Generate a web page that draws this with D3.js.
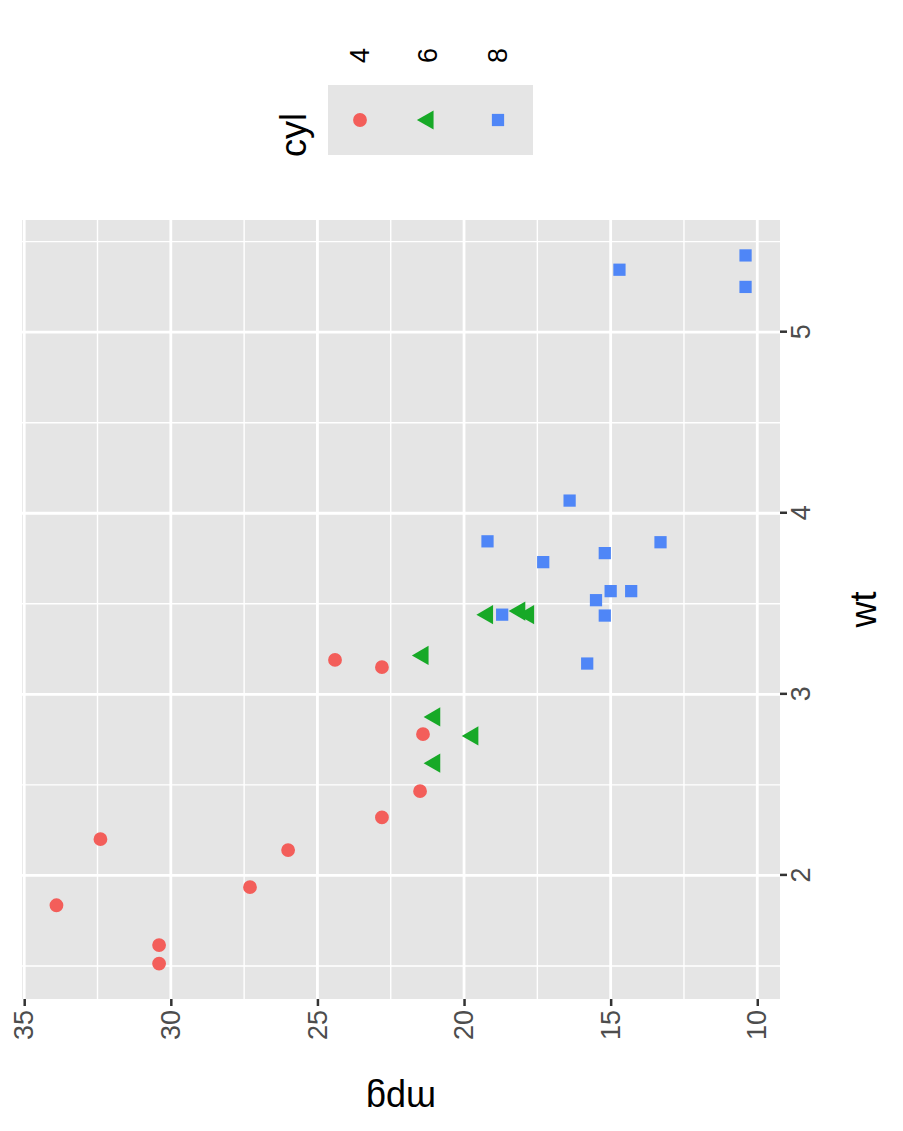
<!DOCTYPE html><html><head><meta charset="utf-8"><script src="https://cdn.jsdelivr.net/npm/d3@7"></script>
<style>body{margin:0;background:#fff}text{font-family:"Liberation Sans",Arial,sans-serif}</style></head><body>
<svg id="c" width="903" height="1131"></svg>
<script>
const wt=[2.620,2.875,2.320,3.215,3.440,3.460,3.570,3.190,3.150,3.440,3.440,4.070,3.730,3.780,5.250,5.424,5.345,2.200,1.615,1.835,2.465,3.520,3.435,3.840,3.845,1.935,2.140,1.513,3.170,2.770,3.570,2.780];
const mpg=[21.0,21.0,22.8,21.4,18.7,18.1,14.3,24.4,22.8,19.2,17.8,16.4,17.3,15.2,10.4,10.4,14.7,32.4,30.4,33.9,21.5,15.5,15.2,13.3,19.2,27.3,26.0,30.4,15.8,19.7,15.0,21.4];
const cyl=[6,6,4,6,8,6,8,4,4,6,6,8,8,8,8,8,8,4,4,4,4,8,8,8,8,4,4,4,8,6,8,4];
const cylLevels=[4,6,8];
const colors=["#F35E5A","#17A927","#4F86F7"];
const wtTicks=[2,3,4,5], wtMinor=[1.5,2.5,3.5,4.5,5.5];
const mpgTicks=[10,15,20,25,30,35], mpgMinor=[12.5,17.5,22.5,27.5,32.5];

const svg=d3.select("#c");
const g=svg.append("g").attr("transform","translate(0,1131) rotate(-90)");
const L=132,R=911,T=22,B=780;
const x=d3.scaleLinear().domain([1.3174,5.6196]).range([L,R]);
const y=d3.scaleLinear().domain([9.225,35.075]).range([B,T]);
g.append("rect").attr("x",L).attr("y",T).attr("width",R-L).attr("height",B-T).attr("fill","#E5E5E5");
const gc=g.append("g").attr("stroke","#fff");
wtMinor.forEach(v=>gc.append("line").attr("x1",x(v)).attr("x2",x(v)).attr("y1",T).attr("y2",B).attr("stroke-width",1.4));
mpgMinor.forEach(v=>gc.append("line").attr("y1",y(v)).attr("y2",y(v)).attr("x1",L).attr("x2",R).attr("stroke-width",1.4));
wtTicks.forEach(v=>gc.append("line").attr("x1",x(v)).attr("x2",x(v)).attr("y1",T).attr("y2",B).attr("stroke-width",2.8));
mpgTicks.forEach(v=>gc.append("line").attr("y1",y(v)).attr("y2",y(v)).attr("x1",L).attr("x2",R).attr("stroke-width",2.8));
const xa=g.append("g").attr("transform",`translate(0,${B})`).call(d3.axisBottom(x).tickValues(wtTicks).tickSize(7).tickPadding(4).tickFormat(d3.format("d")));
const ya=g.append("g").attr("transform",`translate(${L},0)`).call(d3.axisLeft(y).tickValues(mpgTicks).tickSize(7).tickPadding(4).tickFormat(d3.format("d")));
[xa,ya].forEach(a=>{a.select(".domain").remove();a.selectAll("line").attr("stroke","#333").attr("stroke-width",2.5);a.selectAll("text").attr("fill","#4D4D4D").attr("font-size",27);});
g.append("text").attr("x",(L+R)/2).attr("y",876).attr("text-anchor","middle").attr("font-size",36).text("wt");
g.append("text").attr("transform",`translate(44,${(T+B)/2}) rotate(-90)`).attr("text-anchor","middle").attr("font-size",36).text("mpg");
const sym=[d3.symbolCircle,d3.symbolTriangle,d3.symbolSquare];
const sz=[150,160,150];
wt.forEach((w,i)=>{const k=cylLevels.indexOf(cyl[i]);
 g.append("path").attr("d",d3.symbol(sym[k],sz[k])()).attr("transform",`translate(${x(w)},${y(mpg[i])})`).attr("fill",colors[k]);});
g.append("text").attr("x",974).attr("y",306).attr("font-size",36).text("cyl");
g.append("rect").attr("x",976).attr("y",328).attr("width",70).attr("height",205).attr("fill","#E5E5E5");
const ly=[360,428,498];
cylLevels.forEach((c,k)=>{
 g.append("path").attr("d",d3.symbol(sym[k],sz[k])()).attr("transform",`translate(1011,${ly[k]})`).attr("fill",colors[k]);
 g.append("text").attr("x",1068).attr("y",ly[k]).attr("dy","0.35em").attr("font-size",27).text(c);
});
</script></body></html>
